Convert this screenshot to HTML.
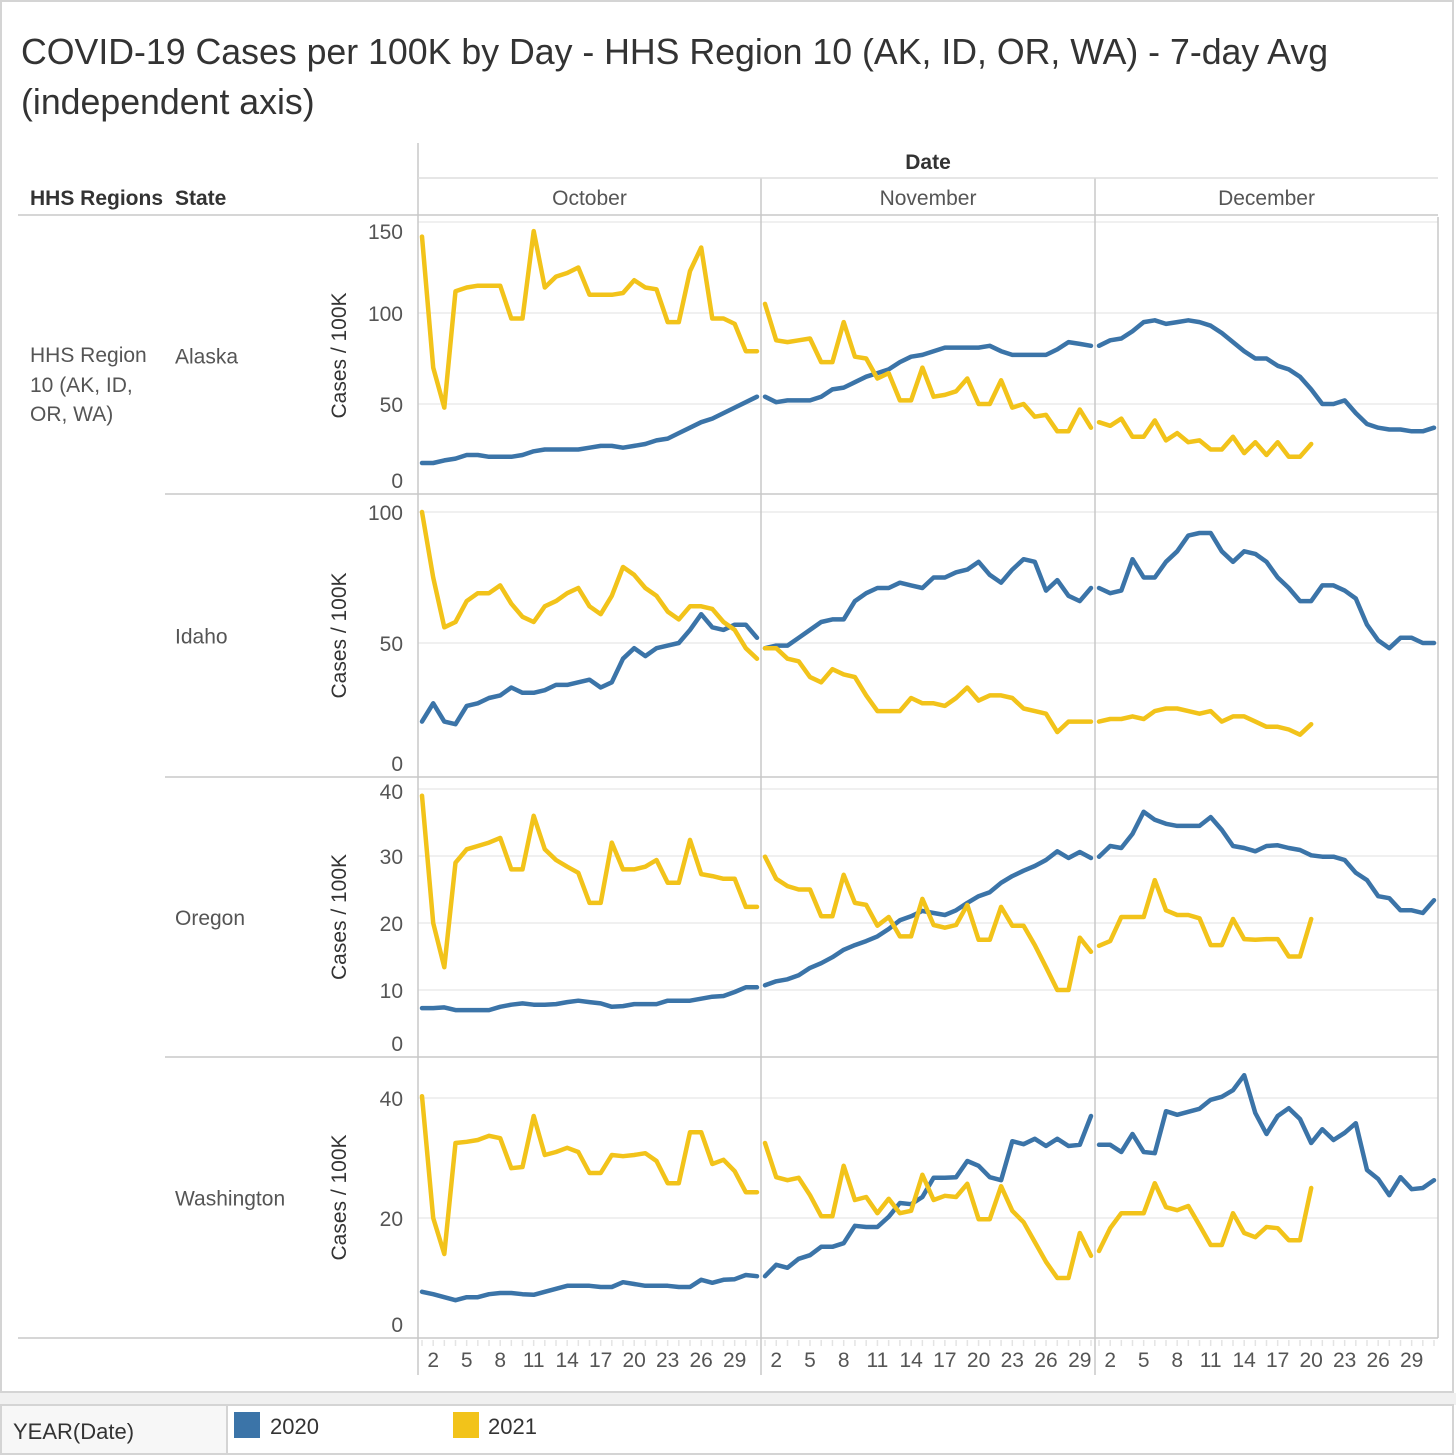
<!DOCTYPE html>
<html><head><meta charset="utf-8">
<style>
html,body{margin:0;padding:0;background:#fff;}
svg{display:block;font-family:"Liberation Sans",sans-serif;}
</style></head>
<body>
<svg id="chart" width="1456" height="1456" viewBox="0 0 1456 1456" xmlns="http://www.w3.org/2000/svg">
  <rect x="0" y="0" width="1456" height="1456" fill="#fff"/>
  <rect x="1" y="1" width="1452" height="1391" fill="none" stroke="#d4d4d4" stroke-width="2"/>
  <rect x="0" y="1393" width="1456" height="12" fill="#f0f0f0"/>
  <rect x="1" y="1405" width="1452" height="49" fill="#fff" stroke="#d4d4d4" stroke-width="2"/>
  <rect x="2" y="1406" width="225" height="47" fill="#f7f7f7"/>
  <line x1="227" y1="1405" x2="227" y2="1454" stroke="#d4d4d4" stroke-width="2"/>
  <text x="13" y="1439" font-size="22" fill="#333">YEAR(Date)</text>
  <g>
    <rect x="234" y="1412" width="26" height="26" fill="#3b74a8"/>
    <text x="270" y="1434" font-size="22" fill="#333">2020</text>
  </g>
  <g>
    <rect x="453" y="1412" width="26" height="26" fill="#f2c31a"/>
    <text x="488" y="1434" font-size="22" fill="#333">2021</text>
  </g>

  <text x="21" y="64" font-size="35.7" fill="#333">COVID-19 Cases per 100K by Day - HHS Region 10 (AK, ID, OR, WA) - 7-day Avg</text>
  <text x="21" y="114" font-size="35.7" fill="#333">(independent axis)</text>

  <text x="928" y="169" font-size="21" font-weight="bold" fill="#333" text-anchor="middle">Date</text>
  <text x="30" y="205" font-size="21" font-weight="bold" fill="#333">HHS Regions</text>
  <text x="175" y="205" font-size="21" font-weight="bold" fill="#333">State</text>
  <text x="30" y="362" font-size="21" fill="#555">HHS Region</text>
  <text x="30" y="392" font-size="21" fill="#555">10 (AK, ID,</text>
  <text x="30" y="421" font-size="21" fill="#555">OR, WA)</text>
  <g id="grid"></g>
  <g id="marks"></g>
  <g id="frame"></g>
</svg>
<script>
const months = ["October","November","December"];
const states = ["Alaska","Idaho","Oregon","Washington"];
const dayTicks = [2,5,8,11,14,17,20,23,26,29];
const akTicks = [0,50,100,150];
const idTicks = [0,50,100];
const orTicks = [0,10,20,30,40];
const waTicks = [0,20,40];

const ak2020Oct = [17.6,17.6,19,20,22,22,21,21,21,22,24,25,25,25,25,26,27,27,26,27,28,30,31,34,37,40,42,45,48,51,54];
const ak2021Oct = [142,70,48,112,114,115,115,115,97,97,145,114,120,122,125,110,110,110,111,118,114,113,95,95,123,136,97,97,94,79,79];
const ak2020Nov = [54,51,52,52,52,54,58,59,62,65,67,69,73,76,77,79,81,81,81,81,82,79,77,77,77,77,80,84,83,82];
const ak2021Nov = [105,85,84,85,86,73,73,95,76,75,64,67,52,52,70,54,55,57,64,50,50,63,48,50,43,44,35,35,47,37];
const ak2020Dec = [82,85,86,90,95,96,94,95,96,95,93,89,84,79,75,75,71,69,65,58,50,50,52,45,39,37,36,36,35,35,37];
const ak2021Dec = [40,38,42,32,32,41,30,34,29,30,25,25,32,23,29,22,29,21,21,28];

const id2020Oct = [20,27,20,19,26,27,29,30,33,31,31,32,34,34,35,36,33,35,44,48,45,48,49,50,55,61,56,55,57,57,52];
const id2021Oct = [100,75,56,58,66,69,69,72,65,60,58,64,66,69,71,64,61,68,79,76,71,68,62,59,64,64,63,58,55,48,44];
const id2020Nov = [48,49,49,52,55,58,59,59,66,69,71,71,73,72,71,75,75,77,78,81,76,73,78,82,81,70,74,68,66,71];
const id2021Nov = [48,48,44,43,37,35,40,38,37,30,24,24,24,29,27,27,26,29,33,28,30,30,29,25,24,23,16,20,20,20];
const id2020Dec = [71,69,70,82,75,75,81,85,91,92,92,85,81,85,84,81,75,71,66,66,72,72,70,67,57,51,48,52,52,50,50];
const id2021Dec = [20,21,21,22,21,24,25,25,24,23,24,20,22,22,20,18,18,17,15,19];

const or2020Oct = [7.3,7.3,7.4,7,7,7,7,7.5,7.8,8,7.8,7.8,7.9,8.2,8.4,8.2,8,7.5,7.6,7.9,7.9,7.9,8.4,8.4,8.4,8.7,9,9.1,9.7,10.4,10.4];
const or2021Oct = [39,20,13.4,29,31,31.5,32,32.7,28,28,36,31,29.4,28.4,27.5,23,23,32,28,28,28.4,29.4,26,26,32.4,27.3,27,26.6,26.6,22.4,22.4];
const or2020Nov = [10.7,11.3,11.6,12.2,13.3,14,14.9,16,16.7,17.3,18,19.1,20.4,21,21.8,21.5,21.2,21.9,23,24,24.6,26,27,27.8,28.5,29.4,30.7,29.7,30.6,29.7];
const or2021Nov = [29.9,26.6,25.5,25,25,21,21,27.2,23,22.7,19.6,20.9,18,18,23.6,19.7,19.3,19.7,22.7,17.5,17.5,22.4,19.6,19.6,16.7,13.4,10,10,17.8,15.7];
const or2020Dec = [29.9,31.5,31.2,33.3,36.6,35.4,34.8,34.5,34.5,34.5,35.8,33.9,31.5,31.2,30.7,31.5,31.6,31.2,30.9,30.1,29.9,29.9,29.4,27.5,26.4,24,23.7,21.9,21.9,21.5,23.4];
const or2021Dec = [16.6,17.3,20.9,20.9,20.9,26.4,21.9,21.2,21.2,20.7,16.7,16.7,20.6,17.6,17.5,17.6,17.6,15,15,20.6];

const wa2020Oct = [7.7,7.3,6.8,6.3,6.8,6.8,7.3,7.5,7.5,7.3,7.2,7.7,8.2,8.7,8.7,8.7,8.5,8.5,9.3,9,8.7,8.7,8.7,8.5,8.5,9.7,9.2,9.7,9.8,10.5,10.3];
const wa2021Oct = [40.3,20,14,32.5,32.7,33,33.7,33.3,28.3,28.5,37,30.5,31,31.7,31,27.5,27.5,30.5,30.3,30.5,30.8,29.5,25.8,25.8,34.3,34.3,29,29.7,27.8,24.3,24.3];
const wa2020Nov = [10.3,12.2,11.7,13.2,13.8,15.2,15.2,15.8,18.7,18.5,18.5,20.2,22.5,22.3,23.5,26.7,26.7,26.8,29.5,28.7,26.8,26.3,32.8,32.3,33.2,32,33.2,32,32.2,37];
const wa2021Nov = [32.5,26.8,26.3,26.7,23.8,20.3,20.3,28.7,23,23.5,20.8,23.2,20.8,21.2,27.2,23,23.7,23.5,25.7,19.8,19.8,25.3,21.2,19.3,16,12.7,10,10,17.5,13.7];
const wa2020Dec = [32.2,32.2,31,34,31,30.8,37.8,37.2,37.7,38.2,39.7,40.2,41.3,43.8,37.5,34,37,38.3,36.5,32.5,34.8,33,34.2,35.8,28,26.5,23.8,26.8,24.8,25,26.3];
const wa2021Dec = [14.5,18.3,20.8,20.8,20.8,25.8,21.8,21.3,22,18.8,15.5,15.5,20.8,17.5,16.8,18.5,18.3,16.3,16.3,25];

const NS="http://www.w3.org/2000/svg";
function mk(tag, attrs, parent){const e=document.createElementNS(NS,tag);for(const k in attrs)e.setAttribute(k,attrs[k]);parent.appendChild(e);return e;}

const colX = [[418,761,31],[761,1095,30],[1095,1438,31]];
const rowY = [[217,494],[494,777],[777,1057],[1057,1338]];
const rowScale = [{zero:495,top:222,max:150},{zero:774,top:512,max:100},{zero:1057,top:789,max:40},{zero:1338,top:1098,max:40}];
const rowTicks = [akTicks,idTicks,orTicks,waTicks];
const series = [
 [[ak2020Oct,ak2021Oct],[ak2020Nov,ak2021Nov],[ak2020Dec,ak2021Dec]],
 [[id2020Oct,id2021Oct],[id2020Nov,id2021Nov],[id2020Dec,id2021Dec]],
 [[or2020Oct,or2021Oct],[or2020Nov,or2021Nov],[or2020Dec,or2021Dec]],
 [[wa2020Oct,wa2021Oct],[wa2020Nov,wa2021Nov],[wa2020Dec,wa2021Dec]]
];
const colors = ["#3b74a8","#f2c31a"];
function xScale(c, day){const [x0,x1,n]=colX[c];const step=(x1-x0-8)/ (n-1);return x0+4+(day-1)*step;}
function yScale(r, v){const s=rowScale[r];return s.zero-(v/s.max)*(s.zero-s.top);}

const grid=document.getElementById('grid'), marks=document.getElementById('marks'), frame=document.getElementById('frame');

for(let r=0;r<4;r++){
  rowTicks[r].forEach(t=>{
    const y=yScale(r,t);
    if(t>0){const g=mk('line',{x1:418,x2:1438,y1:y,y2:y,stroke:'#ececec','stroke-width':1.5},grid);
      
      }
    let ly=y+8; if(ly>rowY[r][1]-6) ly=rowY[r][1]-6; if(ly<rowY[r][0]+22) ly=rowY[r][0]+22;
    const tl=mk('text',{x:403,y:ly,'font-size':21,fill:'#555','text-anchor':'end'},frame);
    tl.textContent=t;
    
    
  });
  const cy=(rowY[r][0]+rowY[r][1])/2;
  const at=mk('text',{x:0,y:0,'font-size':21,fill:'#333','text-anchor':'middle',transform:`translate(346,${cy}) rotate(-90)`},frame);
  at.textContent='Cases / 100K';
  
  
  const sl=mk('text',{x:175,y:cy+8,'font-size':21,fill:'#555'},frame);
  sl.textContent=states[r];
  
  
}

for(let r=0;r<4;r++)for(let c=0;c<3;c++)for(let s=0;s<2;s++){
  const arr=series[r][c][s];
  const pts=arr.map((v,i)=>xScale(c,i+1).toFixed(1)+','+yScale(r,v).toFixed(1)).join(' ');
  const pl=mk('polyline',{points:pts,fill:'none',stroke:colors[s],'stroke-width':4.5,'stroke-linejoin':'round','stroke-linecap':'round'},marks);
  
  
}

const L=(x1,y1,x2,y2,col)=>mk('line',{x1,y1,x2,y2,stroke:col||'#c8c8c8','stroke-width':1.5},frame);
L(18,215,1438,215);
L(418,143,418,1375);
L(761,178,761,1375);
L(1095,178,1095,1375);
L(1438,217,1438,1338);
L(165,494,1438,494);L(165,777,1438,777);L(165,1057,1438,1057);
L(18,1338,1438,1338);
L(418,178,1438,178,'#ddd');

months.forEach((m,c)=>{
  const mx=(colX[c][0]+colX[c][1])/2;
  const t=mk('text',{x:mx,y:205,'font-size':21,fill:'#555','text-anchor':'middle'},frame);
  t.textContent=m;
  
  
  for(let d=1; d<=colX[c][2]; d++){L(xScale(c,d),1340,xScale(c,d),1346,'#e4e4e4');}
  dayTicks.forEach(d=>{
    const tx=mk('text',{x:xScale(c,d),y:1367,'font-size':21,fill:'#555','text-anchor':'middle'},frame);
    tx.textContent=d;
    
    
  });
});
</script>
</body></html>
